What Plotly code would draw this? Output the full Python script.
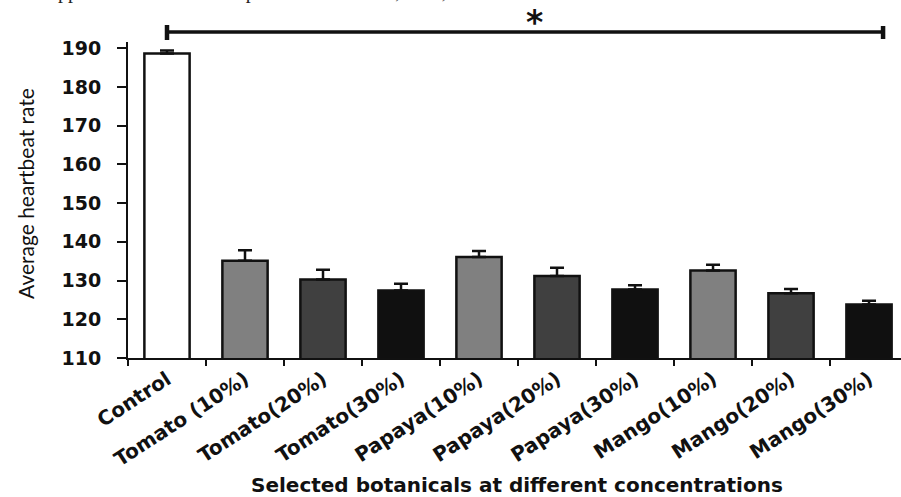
import plotly.graph_objects as go

# ---- data ----
categories = ["Control", "Tomato (10%)", "Tomato(20%)", "Tomato(30%)",
              "Papaya(10%)", "Papaya(20%)", "Papaya(30%)",
              "Mango(10%)", "Mango(20%)", "Mango(30%)"]
heartbeat = [188.6, 135.1, 130.3, 127.4, 136.1, 131.2, 127.7, 132.6, 126.7, 123.8]
sem = [0.8, 2.7, 2.5, 1.8, 1.5, 2.1, 1.1, 1.5, 1.1, 1.0]
y_ticks = [110, 120, 130, 140, 150, 160, 170, 180, 190]

# ---- styles ----
fill_colors = ["#ffffff", "#808080", "#404040", "#101010",
               "#808080", "#404040", "#101010",
               "#808080", "#404040", "#101010"]

W, H = 901, 497
ML, MR, MT, MB = 128, 0, 42, 139
plot_h = H - MT - MB

def py(px):
    """pixel y (from top) -> paper y"""
    return (H - MB - px) / plot_h

fig = go.Figure()
fig.add_trace(go.Bar(
    x=categories, y=heartbeat,
    width=0.58,
    marker=dict(color=fill_colors, line=dict(color="#111111", width=2.5)),
    error_y=dict(type="data", symmetric=False, array=sem,
                 arrayminus=[0] * len(sem), color="#111111",
                 thickness=2.5, width=7),
    showlegend=False,
))

fig.update_layout(
    width=W, height=H,
    margin=dict(l=ML, r=MR, t=MT, b=MB, pad=0),
    paper_bgcolor="white", plot_bgcolor="white",
    xaxis=dict(
        type="category", range=[-0.5, 9.41],
        showline=True, linecolor="#111111", linewidth=2,
        ticks="outside", tickson="boundaries", ticklen=6, tickwidth=2,
        tickcolor="#111111", tickangle=-33,
        tickfont=dict(family="DejaVu Sans", size=20, color="#111111", weight="bold"),
        showgrid=False, zeroline=False,
    ),
    yaxis=dict(
        range=[110, 191.6], tickvals=y_ticks,
        showline=True, linecolor="#111111", linewidth=2,
        ticks="outside", ticklen=9, tickwidth=2, tickcolor="#111111",
        tickfont=dict(family="DejaVu Sans", size=19, color="#111111", weight="bold"),
        ticklabelstandoff=12,
        showgrid=False, zeroline=False,
    ),
)

# y-axis title
fig.add_annotation(
    text="Average heartbeat rate", textangle=-90,
    xref="paper", yref="paper", x=-(ML - 25) / (W - ML - MR), y=py(194),
    xanchor="center", yanchor="middle", showarrow=False,
    font=dict(family="Lato", size=21, color="#111111"),
)
# x-axis title
fig.add_annotation(
    text="Selected botanicals at different concentrations",
    xref="paper", yref="paper", x=(517 - ML) / (W - ML - MR), y=py(485),
    xanchor="center", yanchor="middle", showarrow=False,
    font=dict(family="DejaVu Sans", size=20, color="#111111", weight="bold"),
)

# significance bracket
x_left, x_right = 0, 9.18
fig.add_shape(type="line", xref="x", yref="paper", x0=x_left, x1=x_right,
              y0=py(32), y1=py(32), line=dict(color="#111111", width=3.5))
fig.add_shape(type="line", xref="x", yref="paper", x0=x_left, x1=x_left,
              y0=py(25), y1=py(40), line=dict(color="#111111", width=4.5))
fig.add_shape(type="line", xref="x", yref="paper", x0=x_right, x1=x_right,
              y0=py(26), y1=py(39), line=dict(color="#111111", width=4.5))
fig.add_annotation(
    text="*", xref="paper", yref="paper",
    x=(534 - ML) / (W - ML - MR), y=py(23),
    xanchor="center", yanchor="middle", showarrow=False,
    font=dict(family="DejaVu Sans", size=33, color="#111111", weight="bold"),
)

# clipped caption line at the very top
fig.add_annotation(
    text="ows appear on heartbeat rate per minute of 10%, 20%, and 30%.",
    xref="paper", yref="paper", x=(10 - ML) / (W - ML - MR), y=py(4.5),
    xanchor="left", yanchor="bottom", showarrow=False,
    font=dict(family="Liberation Serif", size=20, color="#222222"),
)

fig.write_html("out.html")
